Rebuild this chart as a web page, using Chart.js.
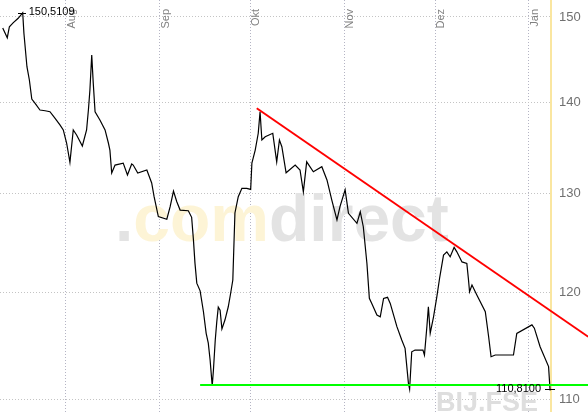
<!DOCTYPE html>
<html>
<head>
<meta charset="utf-8">
<script src="https://cdn.jsdelivr.net/npm/chart.js@4/dist/chart.umd.min.js"></script>
<style>
html,body{margin:0;padding:0;background:#fff;}
canvas{display:block;}
</style>
</head>
<body>
<canvas id="c" width="588" height="412"></canvas>
<script>
// Time axis: days counted from 1 Aug
const days = [-20.8,-19.3,-18.6,-17.3,-15.7,-14.2,-13.8,-12.8,-12.0,-11.2,-10.1,-8.5,-6.8,-5.2,-3.5,-1.9,-0.8,0.3,1.4,2.5,3.6,5.5,6.9,7.5,8.0,8.6,9.1,9.7,11.3,13.0,14.1,14.6,15.2,16.3,19.0,20.4,21.8,22.3,23.8,26.8,28.4,29.2,30.6,33.4,34.5,35.6,36.7,37.8,40.5,41.6,42.2,42.7,43.3,44.4,45.5,46.4,47.1,47.7,48.4,48.8,49.4,49.9,50.4,51.0,51.6,52.6,53.7,54.5,55.2,55.9,57.0,58.2,59.8,61.1,61.5,62.6,63.6,64.2,64.8,65.9,68.4,69.7,70.6,71.4,72.8,75.8,77.4,78.5,79.6,81.8,84.6,86.3,87.9,89.6,90.6,92.3,93.4,96.2,97.3,98.3,99.5,100.3,101.1,102.8,103.9,105.0,106.3,107.2,109.4,111.0,112.1,113.2,113.6,114.3,115.4,118.0,118.5,119.3,119.8,120.4,121.5,122.6,123.5,124.8,125.9,127.0,128.3,129.2,130.9,132.5,133.0,133.4,134.2,135.8,138.6,139.7,140.5,141.9,147.9,149.0,154.0,154.8,156.7,159.5,160.0];
const prices = [148.67,147.50,148.82,149.31,149.84,150.5109,148.03,144.07,142.53,140.35,139.86,139.10,139.02,138.91,138.17,137.43,136.87,135.43,133.33,136.87,136.31,135.10,136.87,139.10,141.38,145.45,142.19,138.91,137.98,136.87,135.43,134.66,132.17,133.03,133.24,131.96,133.14,133.03,132.17,132.50,131.11,129.66,127.58,127.31,128.62,130.25,129.13,128.26,128.19,127.51,125.17,122.86,120.88,120.13,118.11,116.06,115.15,113.58,111.22,112.66,115.43,117.15,118.56,118.27,116.48,117.32,118.59,119.92,121.19,127.96,129.66,130.54,130.54,130.43,133.24,134.66,136.50,138.91,135.76,136.12,136.50,133.38,135.76,135.02,132.20,133.03,132.50,130.17,133.38,132.31,132.85,131.43,129.31,127.24,128.62,130.38,127.93,126.89,128.09,126.54,122.83,119.40,118.91,117.79,117.63,119.40,119.50,118.91,116.69,115.43,114.66,111.47,110.93,114.34,114.50,114.50,114.04,116.69,118.59,116.06,117.63,119.56,121.36,123.66,123.99,123.50,124.44,123.99,122.98,122.83,121.36,120.04,120.70,119.72,118.11,115.74,113.88,114.04,114.04,116.06,116.86,116.55,114.81,112.97,110.81];

// Trend lines
const resistDays = [63.1, 172.6];
const resistPrices = [139.30, 115.74];
const supportDays = [44.4, 172.6];
const supportPrices = [111.31, 111.31];

// Axis ticks
const monthTicks = [0, 31, 61, 92, 122, 153];
const monthLabels = ['Aug', 'Sep', 'Okt', 'Nov', 'Dez', 'Jan'];
const priceTicks = [110, 120, 130, 140, 150];

const watermark1 = '.';
const watermark2 = 'com';
const watermark3 = 'direct';
const symbolText = 'BIJ.FSE';

const FONT = "'Liberation Sans', Arial, sans-serif";

function pts(xs, ys) { return xs.map((x, i) => ({x: x, y: ys[i]})); }
function fmt(v) { return v.toFixed(4).replace('.', ','); }

const watermarkPlugin = {
  id: 'wm',
  beforeDatasetsDraw(chart) {
    const ctx = chart.ctx;
    ctx.save();
    ctx.textBaseline = 'alphabetic';
    ctx.textAlign = 'left';
    ctx.font = 'bold 68px ' + FONT;
    const total = ctx.measureText(watermark1 + watermark2 + watermark3).width;
    const scaleF = 334 / total;
    ctx.font = 'bold ' + (68 * scaleF).toFixed(1) + 'px ' + FONT;
    let x = 115, y = 241;
    ctx.fillStyle = '#e3e3e3';
    ctx.fillText(watermark1, x, y);
    x += ctx.measureText(watermark1).width;
    ctx.fillStyle = '#fdf4d6';
    ctx.fillText(watermark2, x, y);
    x += ctx.measureText(watermark2).width;
    ctx.fillStyle = '#e3e3e3';
    ctx.fillText(watermark3, x, y);
    ctx.font = 'bold 27px ' + FONT;
    ctx.fillStyle = '#dedede';
    ctx.fillText(symbolText, 436, 411);
    ctx.restore();
  }
};

const markPlugin = {
  id: 'marks',
  afterDatasetsDraw(chart) {
    const ctx = chart.ctx;
    const xs = chart.scales.x, ys = chart.scales.y;
    let hi = 0;
    prices.forEach((p, i) => { if (p > prices[hi]) hi = i; });
    const last = prices.length - 1;
    ctx.save();
    ctx.strokeStyle = '#000';
    ctx.lineWidth = 1;
    ctx.fillStyle = '#000';
    ctx.font = '11px ' + FONT;
    ctx.textBaseline = 'middle';
    // high
    let px = xs.getPixelForValue(days[hi]), py = ys.getPixelForValue(prices[hi]);
    ctx.beginPath();
    ctx.moveTo(Math.round(px - 5), Math.round(py) + 0.5);
    ctx.lineTo(Math.round(px + 3), Math.round(py) + 0.5);
    ctx.stroke();
    ctx.textAlign = 'left';
    ctx.fillText(fmt(prices[hi]), px + 6, py - 1);
    // last
    px = xs.getPixelForValue(days[last]); py = ys.getPixelForValue(prices[last]);
    ctx.beginPath();
    ctx.moveTo(Math.round(px - 5), Math.round(py) - 0.5);
    ctx.lineTo(Math.round(px + 5), Math.round(py) - 0.5);
    ctx.stroke();
    ctx.textAlign = 'right';
    ctx.fillText(fmt(prices[last]), px - 9, py - 1);
    ctx.restore();
  }
};

new Chart(document.getElementById('c'), {
  type: 'line',
  data: {
    datasets: [
      {
        data: pts(days, prices),
        borderColor: '#000',
        borderWidth: 1.2,
        pointRadius: 0,
        tension: 0,
        order: 2
      },
      {
        data: pts(resistDays, resistPrices),
        borderColor: '#ff0000',
        borderWidth: 2,
        pointRadius: 0,
        clip: false,
        order: 1
      },
      {
        data: pts(supportDays, supportPrices),
        borderColor: '#00ff00',
        borderWidth: 2,
        pointRadius: 0,
        clip: false,
        order: 1
      }
    ]
  },
  options: {
    responsive: false,
    animation: false,
    devicePixelRatio: 1,
    layout: { padding: 0 },
    plugins: { legend: { display: false }, tooltip: { enabled: false } },
    scales: {
      x: {
        type: 'linear',
        position: 'bottom',
        min: -21.7,
        max: 160.3,
        bounds: 'data',
        afterBuildTicks: s => { s.ticks = monthTicks.map(v => ({value: v})); },
        afterFit: s => { s.height = 0; s.paddingLeft = 0; s.paddingRight = 0; s.paddingTop = 0; s.paddingBottom = 0; },
        grid: { color: '#b4b4c4', drawTicks: false, lineWidth: 1 },
        border: { display: false, dash: [1, 2] },
        ticks: {
          minRotation: 90,
          maxRotation: 90,
          autoSkip: false,
          mirror: true,
          padding: 403,
          labelOffset: 19.2,
          color: '#808080',
          font: { family: FONT, size: 11 },
          callback: v => { const i = monthTicks.indexOf(v); return i >= 0 ? monthLabels[i] : ''; }
        }
      },
      y: {
        type: 'logarithmic',
        position: 'right',
        min: 108.89,
        max: 152.08,
        bounds: 'data',
        afterBuildTicks: s => { s.ticks = priceTicks.map(v => ({value: v})); },
        afterFit: s => { s.width = 37; s.paddingTop = 0; s.paddingBottom = 0; s.paddingLeft = 0; s.paddingRight = 0; },
        grid: { color: '#c4c4c4', drawTicks: false, lineWidth: 1 },
        border: { display: true, color: '#fae6a0', width: 2, dash: [1, 2] },
        ticks: {
          padding: 8,
          color: '#707070',
          font: { family: FONT, size: 13 },
          callback: v => String(v)
        }
      }
    }
  },
  plugins: [watermarkPlugin, markPlugin]
});
</script>
</body>
</html>
